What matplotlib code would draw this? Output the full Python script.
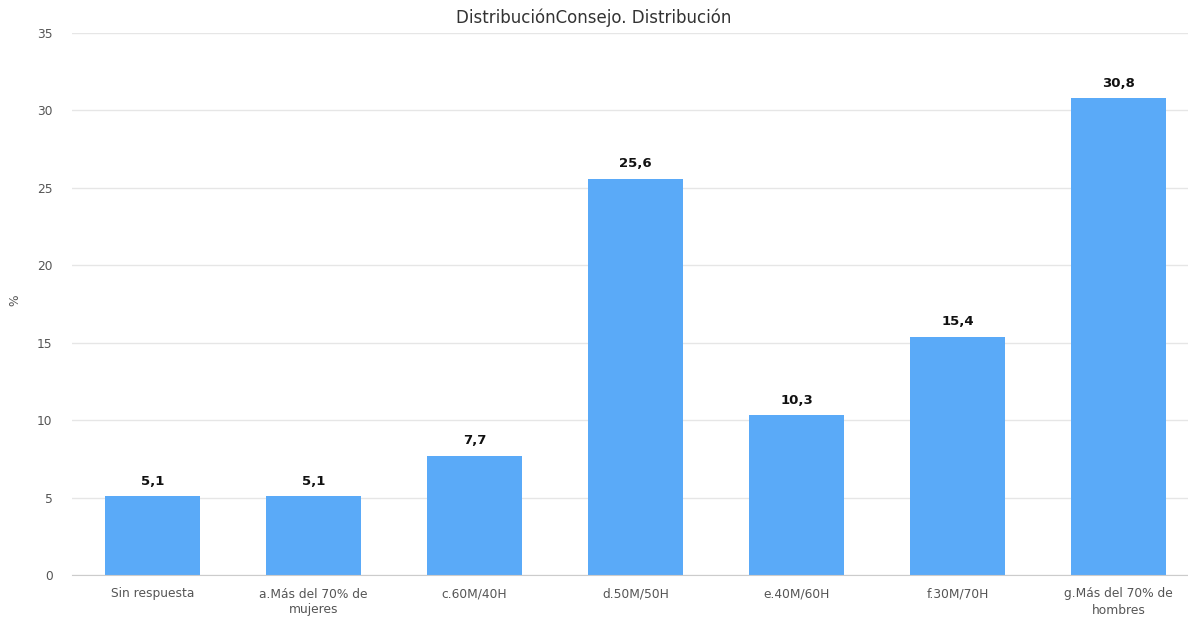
import matplotlib
matplotlib.use("Agg")
import matplotlib.pyplot as plt

categories = ["Sin respuesta", "a.Más del 70% de\nmujeres", "c.60M/40H", "d.50M/50H",
              "e.40M/60H", "f.30M/70H", "g.Más del 70% de\nhombres"]
values = [5.1, 5.1, 7.7, 25.6, 10.3, 15.4, 30.8]
yticks = [0, 5, 10, 15, 20, 25, 30, 35]

plt.rcParams['font.family'] = ['DejaVu Sans']

fig = plt.figure(figsize=(11.88, 6.21), dpi=100)
ax = fig.add_axes([72 / 1188, 46 / 621, 1127 / 1188, 542 / 621])

x = list(range(len(categories)))
bars = ax.bar(x, values, width=0.59, color="#5aaaf8", zorder=2)

for xi, v in zip(x, values):
    ax.annotate(f"{v:.1f}".replace(".", ","), (xi, v), xytext=(0, 6),
                textcoords="offset points", ha="center", va="bottom",
                fontsize=9.5, fontweight="bold", color="#111111")

ax.set_xlim(-0.5, len(categories) - 0.5)
ax.set_ylim(0, 35)
ax.set_yticks(yticks)
ax.set_yticklabels([str(t) for t in yticks])
ax.set_xticks(x)
ax.set_xticklabels(categories, linespacing=1.3)
ax.tick_params(axis="both", length=0, labelsize=8.8, labelcolor="#555555")
ax.tick_params(axis="y", pad=14)
ax.tick_params(axis="x", pad=9)
ax.grid(axis="y", color="#e6e6e6", linewidth=1, zorder=0)
for s in ["top", "right", "left"]:
    ax.spines[s].set_visible(False)
ax.spines["bottom"].set_color("#cccccc")

fig.text(15 / 1188, 1 - 300 / 621, "%", rotation=90, ha="center", va="center",
         fontsize=8.8, color="#555555")
fig.text(0.5, 1 - 18 / 621, "DistribuciónConsejo. Distribución", ha="center",
         va="center", fontsize=12, color="#333333")

fig.savefig("out.png", dpi=100)
